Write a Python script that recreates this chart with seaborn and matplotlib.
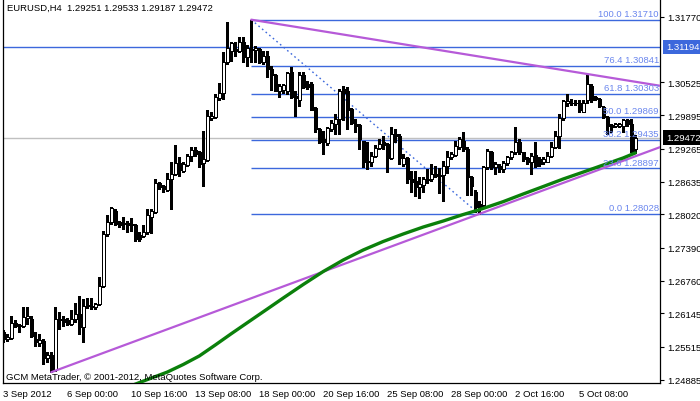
import numpy as np
import matplotlib
matplotlib.use('Agg')
import matplotlib.pyplot as plt
import matplotlib.transforms as mtransforms
import seaborn as sns

# EURUSD H4 bars (one value per bar, oldest first)
opens = [1.2580, 1.2566, 1.2567, 1.2596, 1.2592, 1.2591, 1.2605, 1.2604, 1.2565, 1.2558,
         1.2563, 1.2529, 1.2536, 1.2508, 1.2604, 1.2604, 1.2601, 1.2594, 1.2604, 1.2613,
         1.2588, 1.2628, 1.2629, 1.2626, 1.2632, 1.2667, 1.2765, 1.2787, 1.2809, 1.2787,
         1.2785, 1.2786, 1.2782, 1.2782, 1.2763, 1.2762, 1.2768, 1.2798, 1.2807, 1.2861,
         1.2855, 1.2849, 1.2870, 1.2879, 1.2899, 1.2885, 1.2896, 1.2912, 1.2924, 1.2921,
         1.2899, 1.2905, 1.2985, 1.2986, 1.3023, 1.3033, 1.3090, 1.3112, 1.3115, 1.3112,
         1.3128, 1.3100, 1.3115, 1.3114, 1.3115, 1.3090, 1.3103, 1.3078, 1.3066, 1.3036,
         1.3038, 1.3036, 1.3071, 1.3027, 1.3019, 1.3066, 1.3049, 1.3049, 1.3003, 1.2964,
         1.2945, 1.2937, 1.2964, 1.2973, 1.2983, 1.3040, 1.3036, 1.3002, 1.2973, 1.2971,
         1.2942, 1.2904, 1.2902, 1.2913, 1.2927, 1.2939, 1.2935, 1.2908, 1.2954, 1.2950,
         1.2898, 1.2908, 1.2870, 1.2866, 1.2853, 1.2858, 1.2868, 1.2869, 1.2879, 1.2875,
         1.2877, 1.2894, 1.2910, 1.2915, 1.2929, 1.2942, 1.2926, 1.2872, 1.2845, 1.2822,
         1.2820, 1.2891, 1.2921, 1.2892, 1.2894, 1.2888, 1.2899, 1.2910, 1.2920, 1.2940,
         1.2920, 1.2908, 1.2901, 1.2915, 1.2907, 1.2901, 1.2902, 1.2913, 1.2929, 1.2950,
         1.2984, 1.3014, 1.3014, 1.3013, 1.3014, 1.2997, 1.3018, 1.3046, 1.3024, 1.3021,
         1.3005, 1.2986, 1.2971, 1.2969, 1.2969, 1.2969, 1.2980, 1.2973, 1.29251]
highs = [1.2583, 1.2575, 1.2609, 1.2601, 1.2594, 1.2626, 1.2626, 1.2609, 1.2579, 1.2575,
         1.2566, 1.2542, 1.2541, 1.2626, 1.2617, 1.2610, 1.2605, 1.2620, 1.2634, 1.2648,
         1.2642, 1.2643, 1.2644, 1.2635, 1.2683, 1.2771, 1.2800, 1.2816, 1.2812, 1.2790,
         1.2797, 1.2790, 1.2795, 1.2784, 1.2768, 1.2781, 1.2812, 1.2812, 1.2869, 1.2863,
         1.2858, 1.2880, 1.2902, 1.2934, 1.2910, 1.2902, 1.2917, 1.2929, 1.2929, 1.2923,
         1.2961, 1.3000, 1.2996, 1.3030, 1.3051, 1.3109, 1.3167, 1.3129, 1.3129, 1.3138,
         1.3138, 1.3123, 1.3171, 1.3121, 1.3117, 1.3112, 1.3112, 1.3084, 1.3068, 1.3049,
         1.3049, 1.3071, 1.3081, 1.3036, 1.3071, 1.3071, 1.3055, 1.3053, 1.3005, 1.2965,
         1.2961, 1.2967, 1.2980, 1.2992, 1.3040, 1.3046, 1.3043, 1.3003, 1.2983, 1.2973,
         1.2942, 1.2940, 1.2920, 1.2934, 1.2944, 1.2951, 1.2937, 1.2967, 1.2964, 1.2954,
         1.2917, 1.2910, 1.2885, 1.2885, 1.2872, 1.2872, 1.2888, 1.2898, 1.2894, 1.2889,
         1.2904, 1.2923, 1.2921, 1.2942, 1.2948, 1.2958, 1.2929, 1.2875, 1.2849, 1.2828,
         1.2894, 1.2925, 1.2923, 1.2901, 1.2898, 1.2904, 1.2913, 1.2923, 1.2967, 1.2944,
         1.2921, 1.2910, 1.2918, 1.2939, 1.2910, 1.2910, 1.2921, 1.2940, 1.2961, 1.2992,
         1.3018, 1.3030, 1.3021, 1.3019, 1.3018, 1.3018, 1.3068, 1.3049, 1.3026, 1.3023,
         1.3008, 1.2989, 1.2973, 1.2975, 1.2975, 1.2983, 1.2983, 1.2983, 1.29533]
lows = [1.2561, 1.2563, 1.2565, 1.2588, 1.2580, 1.2588, 1.2594, 1.2569, 1.2553, 1.2553,
        1.2519, 1.2522, 1.2503, 1.2506, 1.2585, 1.2591, 1.2592, 1.2592, 1.2599, 1.2575,
        1.2560, 1.2624, 1.2623, 1.2623, 1.2630, 1.2664, 1.2762, 1.2784, 1.2782, 1.2778,
        1.2774, 1.2768, 1.2771, 1.2752, 1.2752, 1.2760, 1.2765, 1.2766, 1.2805, 1.2850,
        1.2844, 1.2847, 1.2812, 1.2877, 1.2874, 1.2883, 1.2893, 1.2904, 1.2912, 1.2891,
        1.2855, 1.2904, 1.2980, 1.2984, 1.3018, 1.3021, 1.3087, 1.3093, 1.3102, 1.3109,
        1.3091, 1.3084, 1.3091, 1.3091, 1.3089, 1.3087, 1.3062, 1.3038, 1.3035, 1.3025,
        1.3033, 1.3030, 1.3023, 1.2989, 1.3008, 1.3041, 1.3040, 1.2999, 1.2958, 1.2937,
        1.2917, 1.2934, 1.2961, 1.2954, 1.2954, 1.2980, 1.2964, 1.2973, 1.2958, 1.2925,
        1.2891, 1.2888, 1.2894, 1.2910, 1.2925, 1.2925, 1.2883, 1.2907, 1.2939, 1.2898,
        1.2894, 1.2862, 1.2845, 1.2836, 1.2834, 1.2844, 1.2862, 1.2866, 1.2872, 1.2843,
        1.2828, 1.2880, 1.2907, 1.2913, 1.2926, 1.2923, 1.2838, 1.2838, 1.2806, 1.28028,
        1.2816, 1.2888, 1.2888, 1.2879, 1.2882, 1.2882, 1.2896, 1.2907, 1.2917, 1.2917,
        1.2904, 1.2898, 1.2879, 1.2891, 1.2894, 1.2898, 1.2901, 1.2910, 1.2928, 1.2928,
        1.2980, 1.3008, 1.3009, 1.3009, 1.2996, 1.2996, 1.3014, 1.3015, 1.3019, 1.3006,
        1.2985, 1.2954, 1.2958, 1.2967, 1.2967, 1.2958, 1.2970, 1.2920, 1.29187]
closes = [1.2566, 1.2569, 1.2596, 1.2590, 1.2590, 1.2607, 1.2609, 1.2572, 1.2560, 1.2564,
          1.2529, 1.2536, 1.2508, 1.2604, 1.2601, 1.2599, 1.2594, 1.2604, 1.2613, 1.2588,
          1.2629, 1.2630, 1.2627, 1.2633, 1.2667, 1.2765, 1.2787, 1.2814, 1.2784, 1.2782,
          1.2784, 1.2782, 1.2784, 1.2755, 1.2755, 1.2768, 1.2800, 1.2809, 1.2861, 1.2853,
          1.2850, 1.2870, 1.2879, 1.2899, 1.2887, 1.2898, 1.2913, 1.2924, 1.2917, 1.2898,
          1.2907, 1.2988, 1.2989, 1.3024, 1.3033, 1.3090, 1.3117, 1.3127, 1.3112, 1.3128,
          1.3100, 1.3117, 1.3114, 1.3117, 1.3090, 1.3103, 1.3078, 1.3066, 1.3036, 1.3045,
          1.3047, 1.3070, 1.3024, 1.3022, 1.3066, 1.3043, 1.3044, 1.3000, 1.2963, 1.2940,
          1.2939, 1.2965, 1.2975, 1.2983, 1.3036, 1.3033, 1.2999, 1.2975, 1.2970, 1.2944,
          1.2902, 1.2902, 1.2913, 1.2927, 1.2935, 1.2934, 1.2908, 1.2954, 1.2950, 1.2908,
          1.2908, 1.2869, 1.2864, 1.2853, 1.2860, 1.2869, 1.2870, 1.2879, 1.2875, 1.2877,
          1.2894, 1.2910, 1.2917, 1.2932, 1.2945, 1.2926, 1.2872, 1.2856, 1.2816, 1.2816,
          1.2891, 1.2923, 1.2892, 1.2898, 1.2888, 1.2899, 1.2911, 1.2921, 1.2940, 1.2920,
          1.2907, 1.2901, 1.2913, 1.2894, 1.2898, 1.2907, 1.2913, 1.2929, 1.2951, 1.2984,
          1.3016, 1.3016, 1.3013, 1.3014, 1.2999, 1.3014, 1.3049, 1.3018, 1.3021, 1.3008,
          1.2986, 1.2970, 1.2967, 1.2973, 1.2973, 1.2980, 1.2973, 1.2923, 1.29472]

# moving average (green), read at a number of bars
ma_bar = [32, 35, 41, 45, 49, 53, 57, 62, 66, 70, 75, 80, 85, 90, 95, 100,
          105, 110, 115, 119, 125, 130, 135, 140, 145, 150, 155, 158]
ma_price = [1.24774, 1.24861, 1.25032, 1.25176, 1.25337, 1.25545, 1.25759, 1.26019,
            1.26227, 1.26436, 1.26692, 1.26938, 1.27156, 1.27346, 1.27507, 1.27649,
            1.27781, 1.27895, 1.28018, 1.28108, 1.28262, 1.28407, 1.28548, 1.28691,
            1.28822, 1.28956, 1.29090, 1.29184]

# fibonacci retracement (from bar 62 high to bar 119 low)
fib_bars = [62, 119]
fib_levels = ['100.0', '76.4', '61.8', '50.0', '38.2', '23.6', '0.0']
fib_prices = [1.31710, 1.30841, 1.30303, 1.29869, 1.29435, 1.28897, 1.28028]

# trend lines: two anchor bars / prices each, drawn as rays to the right
upper_bars, upper_prices = [62, 146], [1.31710, 1.30681]
lower_bars, lower_prices = [12, 119], [1.25030, 1.28028]

hline_price = 1.31194
bid_price = 1.29472

y_ticks = [1.31770, 1.30525, 1.29895, 1.29265, 1.28635, 1.28020,
           1.27390, 1.26760, 1.26145, 1.25515, 1.24885]
x_tick_bars = [0, 16, 32, 48, 64, 80, 96, 112, 128, 144]
x_tick_labels = ['3 Sep 2012', '6 Sep 00:00', '10 Sep 16:00', '13 Sep 08:00',
                 '18 Sep 00:00', '20 Sep 16:00', '25 Sep 08:00', '28 Sep 00:00',
                 '2 Oct 16:00', '5 Oct 08:00']

sns.set_style('white')
plt.rcParams['font.family'] = ['Liberation Sans', 'DejaVu Sans']
FS = 6.8
BLUE = '#3c68dc'
FIBTXT = '#6a86ee'
PURPLE = '#b65ad8'
GREEN = '#0b800b'

fig = plt.figure(figsize=(7, 4.02), dpi=100)
ax = fig.add_axes([2.5 / 700, 18 / 402, 657.5 / 700, 384 / 402])
x_left, x_right = -0.2, 164.2
ax.set_xlim(x_left, x_right)
ax.set_ylim(1.24825, 1.32102)

bars = np.arange(len(opens))
o = np.array(opens); c = np.array(closes)
h = np.array(highs); l = np.array(lows)

# horizontal objects
ax.axhline(bid_price, color='#c0c0c0', lw=1.0, zorder=1)
ax.axhline(hline_price, color=BLUE, lw=1.0, zorder=1)
ax.hlines(fib_prices, fib_bars[0], x_right, color=BLUE, lw=1.0, zorder=1)
ax.plot(fib_bars, [fib_prices[0], fib_prices[-1]], color=BLUE, lw=1.0,
        linestyle=(0, (1.2, 2.2)), zorder=1)

# candles: wicks, then bodies (white = up, black = down)
ax.vlines(bars, l, h, color='black', lw=0.75, zorder=2, antialiased=False)
up = c >= o
ax.bar(bars[up], (c - o)[up], bottom=o[up], width=0.8, color='white',
       edgecolor='black', linewidth=0.55, zorder=3, antialiased=False)
ax.bar(bars[~up], (o - c)[~up], bottom=c[~up], width=0.8, color='black',
       edgecolor='black', linewidth=0.55, zorder=3, antialiased=False)

# trend lines (rays)
for bx, py in [(upper_bars, upper_prices), (lower_bars, lower_prices)]:
    coef = np.polyfit(bx, py, 1)
    xs = [bx[0], x_right]
    sns.lineplot(x=xs, y=np.polyval(coef, xs), ax=ax, color=PURPLE, lw=1.6, zorder=4)

# moving average
sns.lineplot(x=ma_bar, y=ma_price, ax=ax, color=GREEN, lw=2.4, zorder=5)

# fib labels
lab_tr = mtransforms.offset_copy(ax.transData, fig=fig, y=1.5, units='dots')
for lv, pr in zip(fib_levels, fib_prices):
    ax.text(x_right - 0.3, pr, f'{lv} {pr:.5f}', transform=lab_tr, ha='right',
            va='bottom', fontsize=FS, color=FIBTXT, zorder=6)

# axes styling
for s in ['left', 'bottom', 'right']:
    ax.spines[s].set_visible(True)
    ax.spines[s].set_color('black')
    ax.spines[s].set_linewidth(0.9)
ax.spines['top'].set_visible(False)

ax.yaxis.tick_right()
ax.set_yticks(y_ticks)
ax.set_yticklabels([f'{v:.5f}' for v in y_ticks])
ax.tick_params(axis='y', direction='out', length=3, width=0.8, pad=2,
               labelsize=FS, colors='black', left=False, right=True)
ax.set_xticks(x_tick_bars)
ax.set_xticklabels(x_tick_labels)
ax.tick_params(axis='x', direction='out', length=3, width=0.8, pad=1.5,
               labelsize=FS, colors='black')
for t in ax.get_xticklabels():
    t.set_horizontalalignment('left')
ax.set_xlabel('')
ax.set_ylabel('')
if ax.get_legend():
    ax.get_legend().remove()

# price boxes on the right axis
btr = mtransforms.blended_transform_factory(ax.transAxes, ax.transData)
box_tr = mtransforms.offset_copy(btr, fig=fig, x=6, units='dots')
ax.text(1.0, hline_price, f'{hline_price:.5f}', transform=box_tr, ha='left', va='center',
        fontsize=FS, color='white', clip_on=False,
        bbox=dict(boxstyle='square,pad=0.3', fc=BLUE, ec='none'))
ax.text(1.0, bid_price, f'{bid_price:.5f}', transform=box_tr, ha='left', va='center',
        fontsize=FS, color='white', clip_on=False,
        bbox=dict(boxstyle='square,pad=0.3', fc='black', ec='none'))

# header and footer text
fig.text(7 / 700, 1 - 11 / 402, 'EURUSD,H4  1.29251 1.29533 1.29187 1.29472',
         fontsize=FS, color='black', va='baseline')
fig.text(6 / 700, 1 - 380 / 402, 'GCM MetaTrader, © 2001-2012, MetaQuotes Software Corp.',
         fontsize=FS, color='black', va='baseline', zorder=10)

fig.savefig('out.png', dpi=100, facecolor='white')
